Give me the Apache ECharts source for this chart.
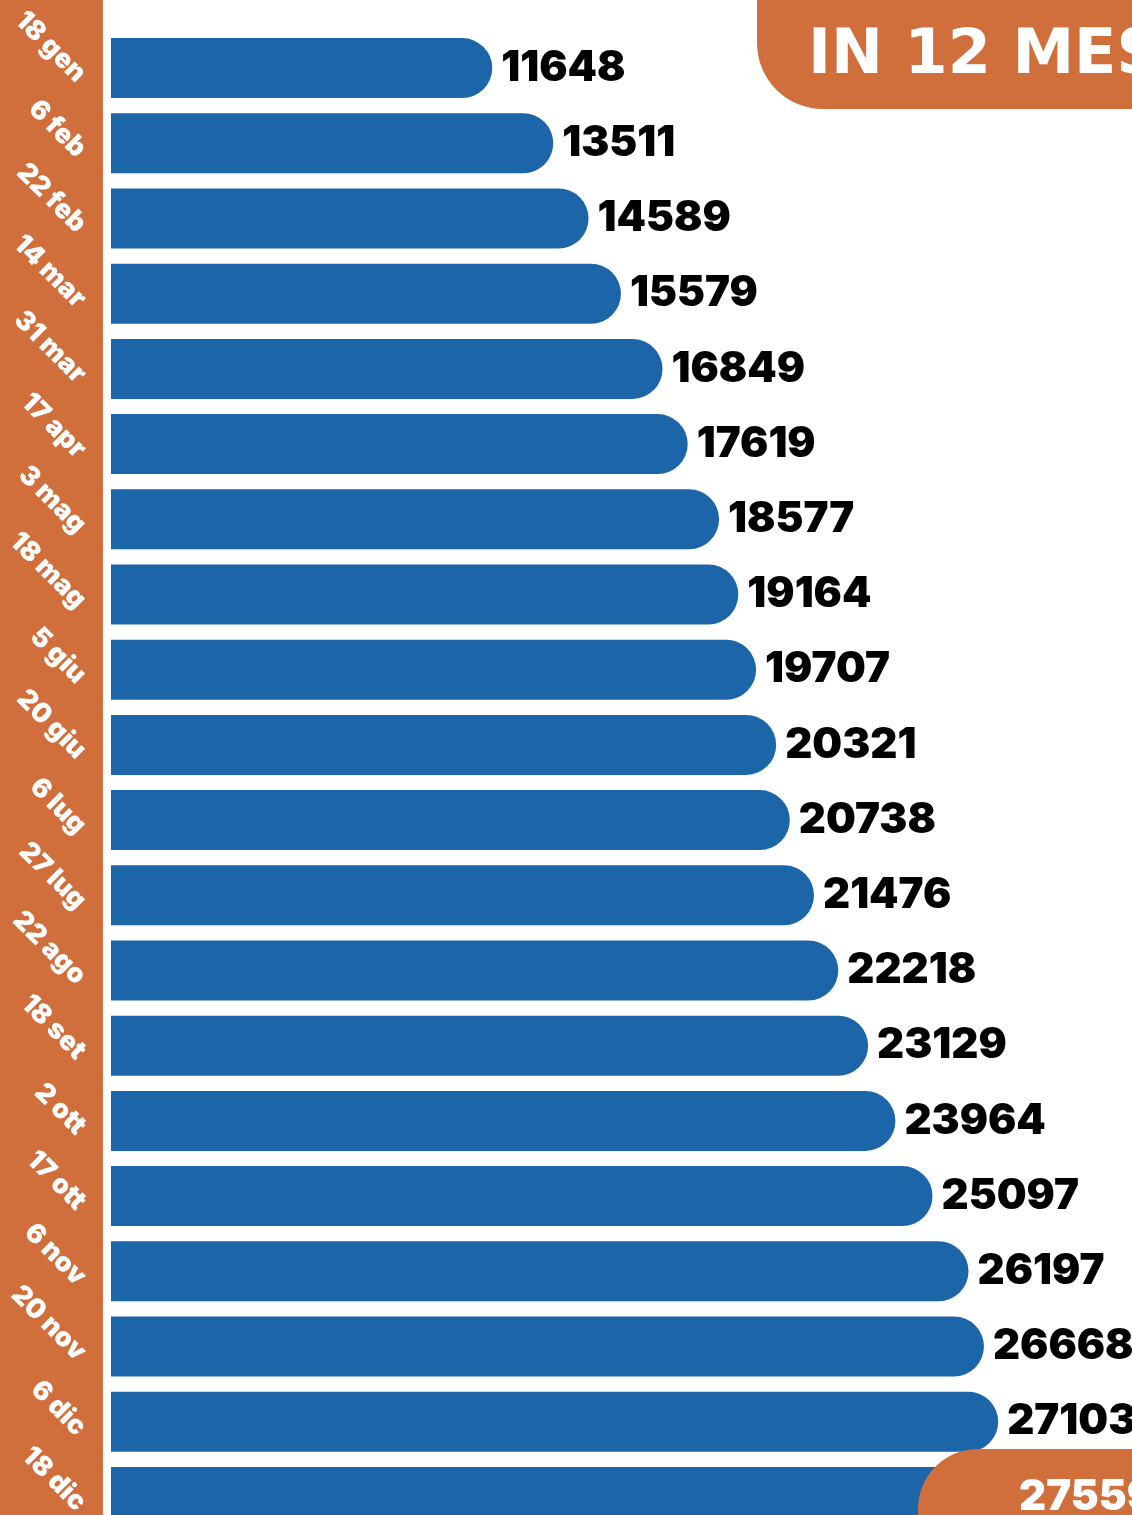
<!DOCTYPE html>
<html>
<head>
<meta charset="utf-8">
<script src="https://cdn.jsdelivr.net/npm/echarts@6/dist/echarts.min.js"></script>
<style>
  html, body { margin: 0; padding: 0; background: #fff; overflow: hidden; }
  #main { width: 1132px; height: 1560px; }
</style>
</head>
<body>
<div id="main"></div>
<script>
"use strict";

const dates = [
  "18 gen", "6 feb", "22 feb", "14 mar", "31 mar", "17 apr", "3 mag", "18 mag",
  "5 giu", "20 giu", "6 lug", "27 lug", "22 ago", "18 set", "2 ott", "17 ott",
  "6 nov", "20 nov", "6 dic", "18 dic",
];
const totals = [
  11648, 13511, 14589, 15579, 16849, 17619, 18577, 19164, 19707, 20321,
  20738, 21476, 22218, 23129, 23964, 25097, 26197, 26668, 27103, 27559,
];
const title = "IN 12 MESI";

const orange = "#d06e3c";
const blue = "#1c65a8";
const last = totals.length - 1;

// the chart is taller than the window, the last bar gets cut like in the original
let chartDom = document.getElementById("main");
let myChart = echarts.init(chartDom);

let option = {
  animation: false,
  grid: {
    left: 111,
    right: 39,
    top: 30.5,
    height: 1504,
  },
  xAxis: {
    type: "value",
    min: 0,
    max: 30000,
    show: false,
  },
  yAxis: {
    type: "category",
    inverse: true,
    data: dates,
    axisLine: { show: false },
    axisTick: { show: false },
    splitLine: { show: false },
    axisLabel: {
      rotate: -45,
      margin: 20,
      verticalAlign: "top",
      color: "#fff",
      fontFamily: "Inter",
      fontWeight: 900,
      fontSize: 27,
    },
  },
  graphic: [
    // orange strip behind the date labels
    {
      type: "rect",
      z: 0,
      shape: { x: 0, y: 0, width: 103, height: 1560 },
      style: { fill: orange },
    },
    // title box top right
    {
      type: "rect",
      z: 1,
      shape: { x: 757, y: -10, width: 420, height: 119, r: [0, 0, 0, 66] },
      style: { fill: orange },
    },
    {
      type: "text",
      z: 2,
      left: 808,
      top: 26,
      style: {
        text: title,
        fill: "#fff",
        fontFamily: "DejaVu Sans",
        fontWeight: "bold",
        fontSize: 62,
        shadowColor: "rgba(80,30,0,0.45)",
        shadowBlur: 6,
        shadowOffsetX: 2,
        shadowOffsetY: 3,
      },
    },
    // pill at the bottom holding the last total
    {
      type: "rect",
      z: 5,
      shape: { x: 918, y: 1449, width: 300, height: 140, r: [60, 0, 0, 60] },
      style: { fill: orange },
    },
  ],
  series: [
    {
      type: "bar",
      z: 2,
      barWidth: 60,
      data: totals,
      itemStyle: {
        color: blue,
        borderRadius: [0, 30, 30, 0],
      },
      label: {
        show: true,
        position: "right",
        distance: 9,
        color: "#000",
        fontFamily: "Inter",
        fontWeight: 900,
        fontSize: 42,
        formatter: (p) => (p.dataIndex === last ? "" : p.value),
      },
    },
    {
      // white label of the last total, drawn above the orange pill
      type: "bar",
      z: 10,
      barWidth: 60,
      barGap: "-100%",
      data: totals.map((v, i) => (i === last ? v : "-")),
      itemStyle: { color: "transparent" },
      label: {
        show: true,
        position: "right",
        distance: 6,
        color: "#fff",
        fontFamily: "Inter",
        fontWeight: 900,
        fontSize: 42,
      },
    },
  ],
};

option && myChart.setOption(option);
</script>
</body>
</html>
